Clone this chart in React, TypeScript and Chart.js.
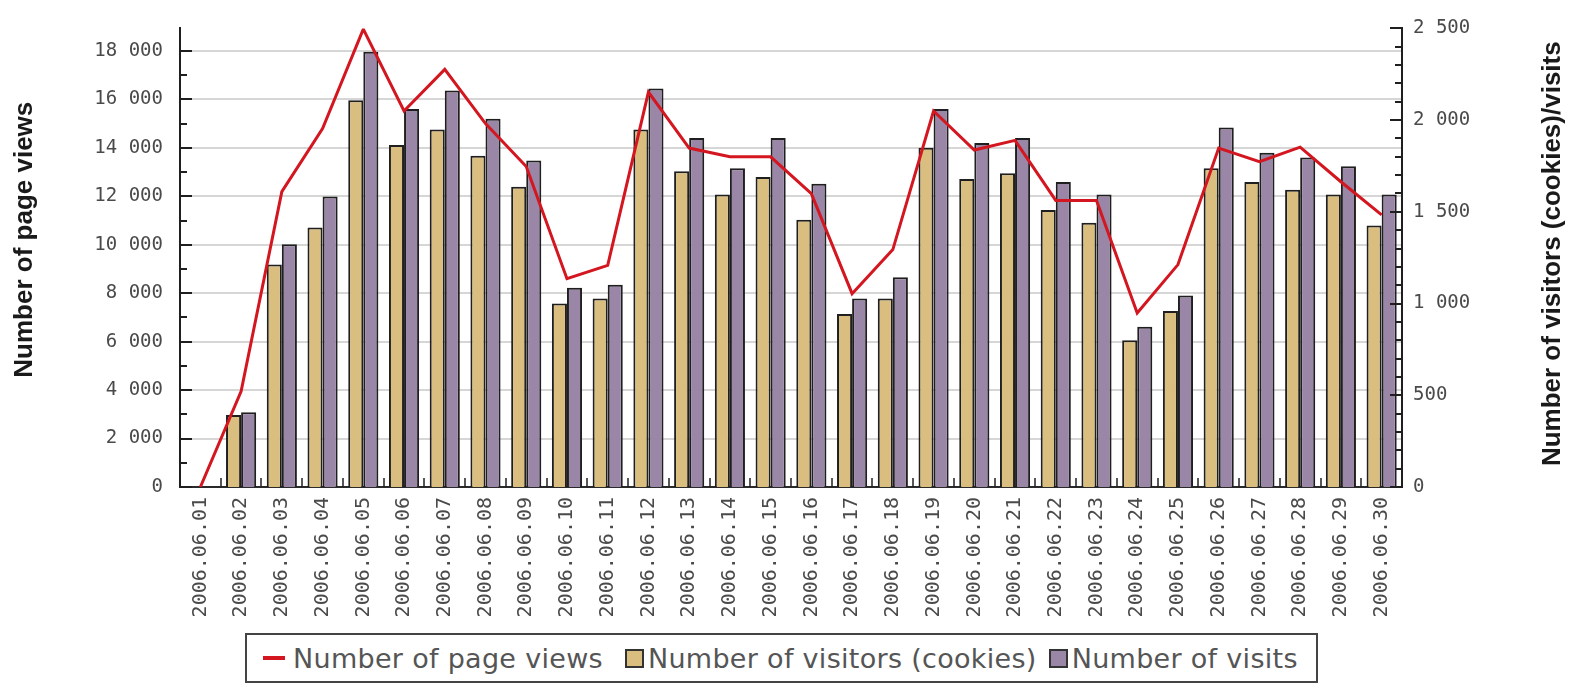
import React, { useEffect, useRef } from 'react';
import { Chart, registerables } from 'chart.js';

Chart.register(...registerables);

const labels = [
  '2006.06.01', '2006.06.02', '2006.06.03', '2006.06.04', '2006.06.05', '2006.06.06',
  '2006.06.07', '2006.06.08', '2006.06.09', '2006.06.10', '2006.06.11', '2006.06.12',
  '2006.06.13', '2006.06.14', '2006.06.15', '2006.06.16', '2006.06.17', '2006.06.18',
  '2006.06.19', '2006.06.20', '2006.06.21', '2006.06.22', '2006.06.23', '2006.06.24',
  '2006.06.25', '2006.06.26', '2006.06.27', '2006.06.28', '2006.06.29', '2006.06.30',
];

const pageViews = [
  0, 3950, 12190, 14800, 18900, 15520, 17240, 15000, 13230, 8600,
  9150, 16300, 13990, 13630, 13630, 12110, 7980, 9800, 15520, 13910,
  14310, 11830, 11830, 7180, 9180, 13990, 13430, 14030, 12600, 11230,
];

const visitors = [
  0, 392, 1213, 1414, 2108, 1865, 1949, 1806, 1637, 1001,
  1028, 1949, 1721, 1594, 1690, 1457, 943, 1028, 1849, 1679,
  1711, 1510, 1441, 800, 959, 1737, 1663, 1621, 1594, 1425,
];

const visits = [
  0, 408, 1324, 1584, 2373, 2061, 2161, 2008, 1780, 1086,
  1102, 2172, 1902, 1737, 1902, 1653, 1028, 1144, 2061, 1875,
  1902, 1663, 1594, 874, 1044, 1960, 1822, 1796, 1748, 1594,
];

const leftTickValues = [0, 2000, 4000, 6000, 8000, 10000, 12000, 14000, 16000, 18000];
const rightTickValues = [0, 500, 1000, 1500, 2000, 2500];

const seriesNames = ['Number of page views', 'Number of visitors (cookies)', 'Number of visits'];
const leftTitle = 'Number of page views';
const rightTitle = 'Number of visitors (cookies)/visits';

const leftMax = 18930;
const leftMinor = 1000;
const rightMax = 2500;
const rightMinor = 100;

const colors = {
  line: '#d3161f',
  visitors: '#d9be80',
  visits: '#9a86a6',
  border: '#1f1f1f',
};

const fmt = (v: number) => String(v).replace(/\B(?=(\d{3})+(?!\d))/g, ' ');

const tickFont = { family: '"DejaVu Sans Mono", monospace', size: 19 };

const decorPlugin = {
  id: 'decor',
  afterDatasetsDraw(chart: any) {
    const { ctx, chartArea: a, scales } = chart;
    ctx.save();
    ctx.strokeStyle = colors.border;
    ctx.lineWidth = 2;
    const y = scales.y;
    for (let v = 0; v <= leftMax; v += leftMinor) {
      const p = Math.round(y.getPixelForValue(v));
      const len = leftTickValues.includes(v) ? 12 : 7;
      ctx.beginPath();
      ctx.moveTo(a.left, p);
      ctx.lineTo(a.left + len, p);
      ctx.stroke();
    }
    const y1 = scales.y1;
    for (let v = 0; v <= rightMax; v += rightMinor) {
      const p = Math.round(y1.getPixelForValue(v));
      const len = rightTickValues.includes(v) ? 12 : 7;
      ctx.beginPath();
      ctx.moveTo(a.right, p);
      ctx.lineTo(a.right - len, p);
      ctx.stroke();
    }
    const x = scales.x;
    ctx.lineWidth = 1.5;
    for (let i = 1; i < labels.length; i++) {
      const p = Math.round(x.getPixelForValue(i - 0.5));
      ctx.beginPath();
      ctx.moveTo(p, a.bottom);
      ctx.lineTo(p, a.bottom - 9);
      ctx.stroke();
    }
    ctx.restore();
  },
  afterDraw(chart: any) {
    const { ctx, chartArea: a } = chart;
    const mid = (a.top + a.bottom) / 2;
    ctx.save();
    ctx.fillStyle = '#1a1a1a';
    ctx.font = 'bold 26px "Liberation Sans", Arial, sans-serif';
    ctx.textAlign = 'center';
    ctx.textBaseline = 'middle';
    ctx.save();
    ctx.translate(a.left - 155, mid - 18);
    ctx.rotate(-Math.PI / 2);
    ctx.fillText(leftTitle, 0, 0);
    ctx.restore();
    ctx.save();
    ctx.translate(a.right + 151, mid - 4);
    ctx.rotate(-Math.PI / 2);
    ctx.fillText(rightTitle, 0, 0);
    ctx.restore();
    ctx.restore();
  },
};

export default function App() {
  const canvasRef = useRef<HTMLCanvasElement | null>(null);

  useEffect(() => {
    document.documentElement.style.overflow = 'hidden';
    document.body.style.margin = '0';
    document.body.style.overflow = 'hidden';
    if (!canvasRef.current) return;
    const chart = new Chart(canvasRef.current, {
      type: 'bar',
      data: {
        labels,
        datasets: [
          {
            type: 'line',
            label: seriesNames[0],
            data: pageViews,
            yAxisID: 'y',
            borderColor: colors.line,
            backgroundColor: colors.line,
            borderWidth: 3,
            pointRadius: 0,
            tension: 0,
            order: 0,
          } as any,
          {
            type: 'bar',
            label: seriesNames[1],
            data: visitors,
            yAxisID: 'y1',
            backgroundColor: colors.visitors,
            borderColor: colors.border,
            borderWidth: 2,
            borderSkipped: 'start',
            categoryPercentage: 0.74,
            barPercentage: 1,
            order: 1,
          },
          {
            type: 'bar',
            label: seriesNames[2],
            data: visits,
            yAxisID: 'y1',
            backgroundColor: colors.visits,
            borderColor: colors.border,
            borderWidth: 2,
            borderSkipped: 'start',
            categoryPercentage: 0.74,
            barPercentage: 1,
            order: 1,
          },
        ],
      },
      options: {
        animation: false,
        responsive: true,
        maintainAspectRatio: false,
        layout: { padding: { top: 15, left: 0, right: 0, bottom: 0 } },
        plugins: {
          legend: { display: false },
          tooltip: { enabled: false },
        },
        scales: {
          x: {
            type: 'category',
            offset: true,
            grid: { display: false, drawTicks: false },
            border: { display: true, color: '#2a2a2a', width: 2 },
            ticks: {
              minRotation: 90,
              maxRotation: 90,
              autoSkip: false,
              padding: 10,
              color: '#4a4a4a',
              font: { family: '"DejaVu Sans Mono", monospace', size: 20 },
            },
            afterFit(scale: any) {
              scale.height = 202;
            },
          },
          y: {
            type: 'linear',
            position: 'left',
            min: 0,
            max: leftMax,
            grid: { color: '#d6d6d6', lineWidth: 2, drawTicks: false },
            border: { display: true, color: colors.border, width: 2 },
            ticks: {
              padding: 17,
              color: '#4a4a4a',
              font: tickFont,
              callback: (v: any) => fmt(Number(v)),
            },
            afterBuildTicks(scale: any) {
              scale.ticks = leftTickValues.map((v) => ({ value: v }));
            },
            afterFit(scale: any) {
              scale.width = 180;
            },
          },
          y1: {
            type: 'linear',
            position: 'right',
            min: 0,
            max: rightMax,
            grid: { display: false, drawOnChartArea: false, drawTicks: false },
            border: { display: true, color: colors.border, width: 2 },
            ticks: {
              padding: 11,
              color: '#4a4a4a',
              font: tickFont,
              callback: (v: any) => fmt(Number(v)),
            },
            afterBuildTicks(scale: any) {
              scale.ticks = rightTickValues.map((v) => ({ value: v }));
            },
            afterFit(scale: any) {
              scale.width = 185;
            },
          },
        },
      },
      plugins: [decorPlugin],
    });
    return () => chart.destroy();
  }, []);

  const legendText: React.CSSProperties = {
    fontFamily: '"DejaVu Sans", sans-serif',
    fontSize: 27,
    color: '#555',
    whiteSpace: 'nowrap',
    letterSpacing: 0.3,
  };

  return (
    <div
      style={{
        position: 'fixed',
        left: 0,
        top: 0,
        width: 1587,
        height: 689,
        background: '#fff',
        overflow: 'hidden',
      }}
    >
      <div style={{ position: 'absolute', left: 0, top: 0, width: 1587, height: 689 }}>
        <canvas ref={canvasRef} style={{ display: 'block' }} />
      </div>
      <div
        style={{
          position: 'absolute',
          left: 245,
          top: 633,
          width: 1069,
          height: 46,
          border: '2px solid #444',
          background: '#fff',
          display: 'flex',
          alignItems: 'center',
          boxSizing: 'content-box',
        }}
      >
        <span style={{ display: 'inline-block', width: 22, height: 4, background: colors.line, marginLeft: 16, marginRight: 8 }} />
        <span style={legendText}>{seriesNames[0]}</span>
        <span style={{ display: 'inline-block', width: 15, height: 15, background: colors.visitors, border: '2px solid #333', marginLeft: 22, marginRight: 4 }} />
        <span style={legendText}>{seriesNames[1]}</span>
        <span style={{ display: 'inline-block', width: 15, height: 15, background: colors.visits, border: '2px solid #333', marginLeft: 12, marginRight: 4 }} />
        <span style={legendText}>{seriesNames[2]}</span>
      </div>
    </div>
  );
}
